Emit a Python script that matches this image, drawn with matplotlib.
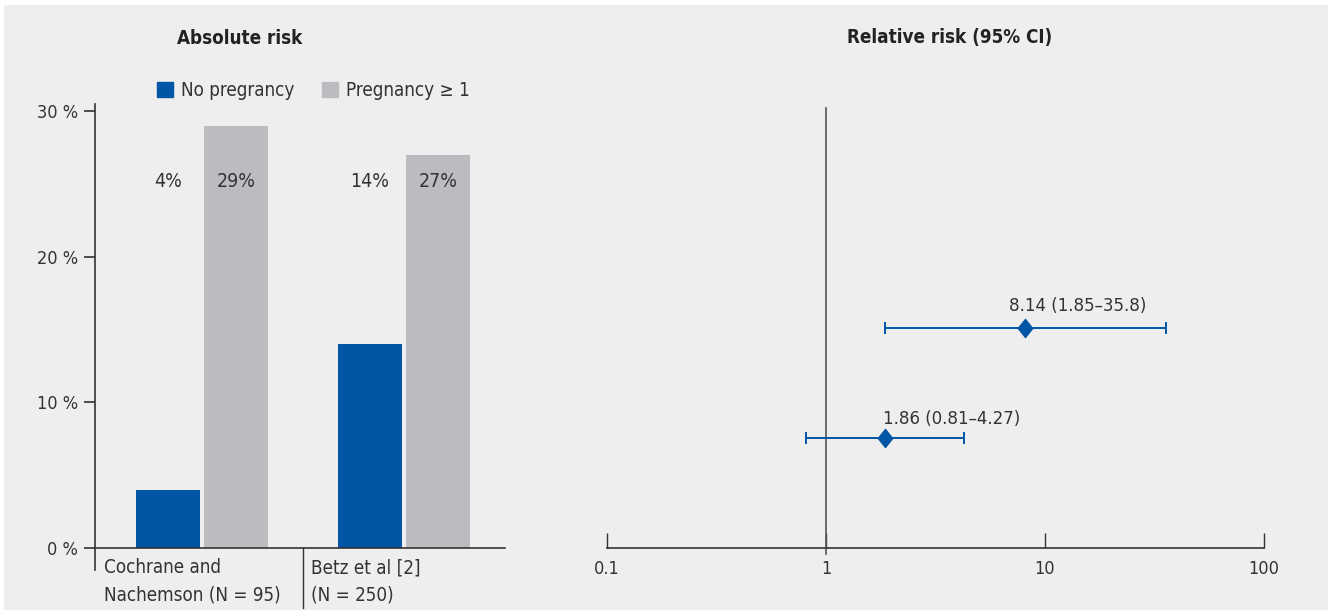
import matplotlib
matplotlib.use("Agg")
import matplotlib.pyplot as plt
from matplotlib.patches import Rectangle, Patch
from matplotlib.lines import Line2D
from matplotlib.path import Path
import matplotlib.transforms as mtransforms
import numpy as np

plt.rcParams['font.family'] = ['DejaVu Sans']
plt.rcParams['font.stretch'] = 'condensed'

# ---- data ----
studies = ["Cochrane and\nNachemson (N = 95)", "Betz et al [2]\n(N = 250)"]
no_preg = [4, 14]
preg = [29, 27]
series_names = ["No pregrancy", "Pregnancy \u2265 1"]
y_ticks = [0, 10, 20, 30]
y_tick_labels = ["0 %", "10 %", "20 %", "30 %"]

rr = [8.14, 1.86]
rr_low = [1.85, 0.81]
rr_high = [35.8, 4.27]
rr_labels = ["8.14 (1.85\u201335.8)", "1.86 (0.81\u20134.27)"]
rr_rows = [2, 1]
x_ticks = [0.1, 1, 10, 100]
x_tick_labels = ["0.1", "1", "10", "100"]

# ---- style ----
W, H = 1335, 614
BLUE = "#0055a4"
GRAY = "#bbbcc0"
TXT = "#333333"
BG = "#eeeeee"

fig = plt.figure(figsize=(W / 100, H / 100), dpi=100)
fig.patch.set_facecolor("white")
fig.patches.append(Rectangle((4 / W, 1 - 610 / H), (1328 - 4) / W, (610 - 5) / H,
                             transform=fig.transFigure, facecolor=BG, edgecolor="none", zorder=-10))


def fx(px):
    return px / W


def fy(py):
    return 1 - py / H


# ---------- left panel ----------
axL = fig.add_axes([fx(95), fy(548), fx(505) - fx(95), fy(108) - fy(548)])
axL.set_facecolor("none")
x = np.arange(len(studies))
bw = 0.317
gap = 0.02
axL.bar(x - bw / 2 - gap / 2, no_preg, width=bw, color=BLUE, label=series_names[0], zorder=2)
axL.bar(x + bw / 2 + gap / 2, preg, width=bw, color=GRAY, label=series_names[1], zorder=2)
axL.set_xlim(-0.53, 1.5)
axL.set_ylim(0, 30 * 440 / 437)
for s in ["top", "right", "left"]:
    axL.spines[s].set_visible(False)
axL.spines["bottom"].set_color(TXT)
axL.spines["bottom"].set_linewidth(1.2)
axL.set_yticks(y_ticks)
axL.set_yticklabels(y_tick_labels, fontsize=13, color=TXT)
axL.tick_params(axis="y", length=8, width=1.2, color=TXT, pad=4)
axL.set_xticks([])

# y axis line extended
axL.add_line(Line2D([0, 0], [-22 / 440, 444 / 440], transform=axL.transAxes,
                    color=TXT, lw=1.2, clip_on=False))
# category separator
trL = mtransforms.blended_transform_factory(axL.transData, axL.transAxes)
axL.add_line(Line2D([0.5, 0.5], [0, -60 / 440], transform=trL, color=TXT, lw=1.0, clip_on=False))

# category labels
for i, lab in enumerate(studies):
    axL.text(i - 0.5 + 0.04 if i > 0 else -0.53 + 0.045, -10 / 440, lab, transform=trL,
             ha="left", va="top", fontsize=13.5, color=TXT, linespacing=1.58)

# value labels
for i in range(len(studies)):
    axL.text(x[i] - bw / 2 - gap / 2, 0.834, f"{no_preg[i]}%", transform=trL,
             ha="center", va="center", fontsize=14, color=TXT)
    axL.text(x[i] + bw / 2 + gap / 2, 0.834, f"{preg[i]}%", transform=trL,
             ha="center", va="center", fontsize=14, color=TXT)

leg = fig.legend(handles=[Patch(color=BLUE), Patch(color=GRAY)], labels=series_names,
                 loc="upper left", bbox_to_anchor=(fx(157), fy(81)), ncol=2, frameon=False,
                 fontsize=13.5, handlelength=0.85, handleheight=0.85, handletextpad=0.45,
                 columnspacing=1.45, borderpad=0, borderaxespad=0, labelcolor=TXT)

fig.text(fx(240), fy(38), "Absolute risk", ha="center", va="center", fontsize=13.5,
         fontweight="bold", color="#222222")

# ---------- right panel ----------
axR = fig.add_axes([fx(607), fy(548), fx(1264) - fx(607), fy(108) - fy(548)])
axR.set_facecolor("none")
axR.set_xscale("log")
axR.set_xlim(0.1, 100)
axR.set_ylim(0, 4)
for s in ["top", "right", "left"]:
    axR.spines[s].set_visible(False)
axR.spines["bottom"].set_color(TXT)
axR.spines["bottom"].set_linewidth(1.2)
axR.set_yticks([])
axR.set_xticks(x_ticks)
axR.set_xticklabels(x_tick_labels, fontsize=13, color=TXT)
axR.xaxis.set_minor_locator(matplotlib.ticker.NullLocator())
axR.tick_params(axis="x", direction="in", length=11, width=1.0, color=TXT, pad=9)

trR = mtransforms.blended_transform_factory(axR.transData, axR.transAxes)
axR.add_line(Line2D([1, 1], [-6 / 440, 1.0], transform=trR, color="#555555", lw=1.2, clip_on=False))

rr_a = np.array(rr)
err = np.vstack([rr_a - np.array(rr_low), np.array(rr_high) - rr_a])
axR.errorbar(rr, rr_rows, xerr=err, fmt="none", ecolor=BLUE, elinewidth=1.4,
             capsize=4, capthick=1.4, zorder=3)
diamond = Path([(-0.4, 0), (0, 0.5), (0.4, 0), (0, -0.5), (-0.4, 0)],
               [Path.MOVETO, Path.LINETO, Path.LINETO, Path.LINETO, Path.CLOSEPOLY])
axR.plot(rr, rr_rows, linestyle="none", marker=diamond, markersize=13, color=BLUE, zorder=4)

label_dx = [-16, -2]
label_dy = [22, 19]
for v, r, lab, dx, dy in zip(rr, rr_rows, rr_labels, label_dx, label_dy):
    axR.annotate(lab, xy=(v, r), xytext=(dx, dy), textcoords="offset pixels",
                 ha="left", va="center", fontsize=13.3, color=TXT)

fig.text(fx(950), fy(38), "Relative risk (95% CI)", ha="center", va="center", fontsize=13.5,
         fontweight="bold", color="#222222")

fig.savefig("out.png", dpi=100, facecolor=fig.get_facecolor())
